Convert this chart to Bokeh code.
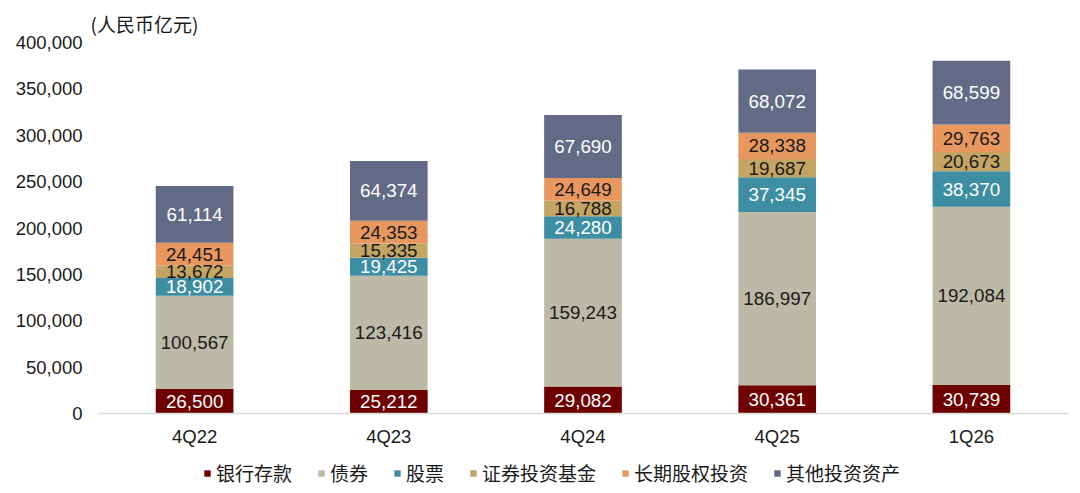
from bokeh.plotting import figure
from bokeh.layouts import column
from bokeh.models import ColumnDataSource, Legend, LegendItem, NumeralTickFormatter, FixedTicker, Range1d, FactorRange
from bokeh.core.properties import value
from bokeh.embed import file_html
from bokeh.resources import INLINE

categories = ["4Q22", "4Q23", "4Q24", "4Q25", "1Q26"]
series_names = ["银行存款", "债券", "股票", "证券投资基金", "长期股权投资", "其他投资资产"]
bank = [26500, 25212, 29082, 30361, 30739]
bonds = [100567, 123416, 159243, 186997, 192084]
stocks = [18902, 19425, 24280, 37345, 38370]
funds = [13672, 15335, 16788, 19687, 20673]
lt_equity = [24451, 24353, 24649, 28338, 29763]
others = [61114, 64374, 67690, 68072, 68599]
y_ticks = [0, 50000, 100000, 150000, 200000, 250000, 300000, 350000, 400000]
unit_label = "(人民币亿元)"

colors = ["#6e0000", "#bcbaa6", "#3d8ea3", "#c4a463", "#e8975f", "#636a86"]
label_colors = ["#ffffff", "#1a1a1a", "#ffffff", "#1a1a1a", "#1a1a1a", "#ffffff"]
series = [bank, bonds, stocks, funds, lt_equity, others]
keys = ["s%d" % i for i in range(len(series))]

data = {"cat": categories}
for k, s in zip(keys, series):
    data[k] = s
source = ColumnDataSource(data)

W = 1076
p = figure(x_range=categories, y_range=(0, 400000), width=W, height=450,
           output_backend="svg", toolbar_location=None,
           min_border_left=97, min_border_right=8, min_border_top=42, min_border_bottom=37)
p.title.text = unit_label
p.title.align = "left"
p.title.offset = -7
p.title.text_font = "Noto Sans CJK SC"
p.title.text_font_size = "19px"
p.title.text_font_style = "normal"
p.title.text_color = "#1a1a1a"
p.title.standoff = 11

p.vbar_stack(keys, x="cat", width=0.4, color=colors, source=source, line_color=None)

# value labels at segment midpoints
for i, (k, s) in enumerate(zip(keys, series)):
    base = [sum(series[j][n] for j in range(i)) for n in range(len(categories))]
    mids = [b + v / 2 for b, v in zip(base, s)]
    txt = ["{:,}".format(v) for v in s]
    ls = ColumnDataSource(dict(x=categories, y=mids, t=txt))
    p.text(x="x", y="y", text="t", source=ls, text_align="center", text_baseline="middle",
           text_font=value("Liberation Sans"), text_font_size=value("18.8px"),
           text_color=label_colors[i])

p.xgrid.visible = False
p.ygrid.visible = False
p.outline_line_color = None

p.yaxis.ticker = FixedTicker(ticks=y_ticks)
p.yaxis.formatter = NumeralTickFormatter(format="0,0")
p.yaxis.axis_line_color = None
p.yaxis.major_tick_line_color = None
p.yaxis.minor_tick_line_color = None
p.yaxis.major_label_standoff = 9
p.yaxis.major_label_text_font = "Liberation Sans"
p.yaxis.major_label_text_font_size = "18.5px"
p.yaxis.major_label_text_color = "#1a1a1a"

p.xaxis.axis_line_color = "#d9d9d9"
p.xaxis.axis_line_width = 1.5
p.xaxis.major_tick_line_color = None
p.xaxis.minor_tick_line_color = None
p.xaxis.major_label_standoff = 6
p.xaxis.major_label_text_font = "Liberation Sans"
p.xaxis.major_label_text_font_size = "18.5px"
p.xaxis.major_label_text_color = "#1a1a1a"

# legend strip (hidden copies of the series, used only for the legend swatches)
lp = figure(width=W, height=39, output_backend="svg", toolbar_location=None,
            x_range=FactorRange(*categories), y_range=Range1d(0, 1),
            min_border_left=0, min_border_right=0, min_border_top=0, min_border_bottom=0)
lp.axis.visible = False
lp.grid.visible = False
lp.outline_line_color = None
items = []
for n, c, s in zip(series_names, colors, series):
    r = lp.vbar(x=categories, top=s, width=0.4, color=c, line_color=None, visible=False)
    items.append(LegendItem(label=n, renderers=[r]))
legend = Legend(items=items, orientation="horizontal", location=(106, 3),
                glyph_width=8, glyph_height=8, label_standoff=5, spacing=25,
                padding=0, margin=0, border_line_color=None, background_fill_alpha=0,
                inactive_fill_alpha=0,
                label_text_font="Noto Sans CJK SC", label_text_font_size="19px",
                label_text_color="#1a1a1a")
lp.add_layout(legend, "center")

layout = column(p, lp, spacing=0)
open("out.html", "w").write(file_html(layout, INLINE))
